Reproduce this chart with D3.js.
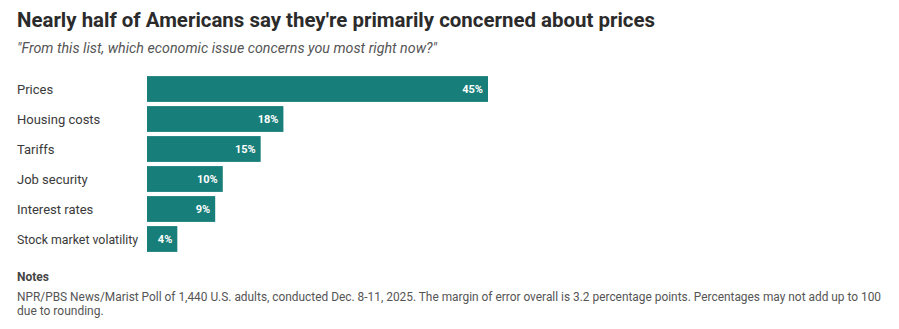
<!DOCTYPE html>
<html><head><meta charset="utf-8">
<script src="https://cdn.jsdelivr.net/npm/d3@7"></script>
<style>body{margin:0;background:#fff;} svg{display:block;}</style>
</head><body><svg id="c" width="899" height="329"></svg>
<script>
const categories = ["Prices","Housing costs","Tariffs","Job security","Interest rates","Stock market volatility"];
const values = [45,18,15,10,9,4];
const title = "Nearly half of Americans say they're primarily concerned about prices";
const subtitle = "\"From this list, which economic issue concerns you most right now?\"";
const notesHead = "Notes";
const notesLines = ["NPR/PBS News/Marist Poll of 1,440 U.S. adults, conducted Dec. 8-11, 2025. The margin of error overall is 3.2 percentage points. Percentages may not add up to 100","due to rounding."];

const svg = d3.select("#c");
const F = "'Liberation Sans Narrow','Roboto','Liberation Sans',sans-serif";
function fit(sel, w){ const n=sel.node(); const L=n.getComputedTextLength(); if(Math.abs(L-w)>2) sel.attr("textLength",w).attr("lengthAdjust","spacingAndGlyphs"); }

fit(svg.append("text").attr("x",17).attr("y",27).attr("font-family",F).attr("font-weight",700).attr("font-size",21).attr("fill","#2b2b2b").text(title),638);
fit(svg.append("text").attr("x",17).attr("y",53).attr("font-family",F).attr("font-style","italic").attr("font-size",15).attr("fill","#555").text(subtitle),420);

const x = d3.scaleLinear().domain([0,45]).range([147,488]);
const y = d3.scaleBand().domain(categories).range([74,254]).paddingInner(0.14).paddingOuter(0.07);

const g = svg.append("g");
g.selectAll("rect").data(values).join("rect")
 .attr("x",x(0)).attr("y",(d,i)=>y(categories[i])).attr("width",d=>x(d)-x(0)).attr("height",y.bandwidth()).attr("fill","#177e7a");
g.selectAll("text.v").data(values).join("text").attr("class","v")
 .attr("x",d=>x(d)-5).attr("y",(d,i)=>y(categories[i])+y.bandwidth()/2+4).attr("text-anchor","end")
 .attr("font-family",F).attr("font-weight",700).attr("font-size",11).attr("fill","#fff").text(d=>d+"%");
g.selectAll("text.l").data(categories).join("text").attr("class","l")
 .attr("x",17).attr("y",d=>y(d)+y.bandwidth()/2+4.5)
 .attr("font-family",F).attr("font-size",13).attr("fill","#3a3a3a").text(d=>d)
 .each(function(d){ if(d==="Stock market volatility") fit(d3.select(this),121); });

svg.append("text").attr("x",17).attr("y",281).attr("font-family",F).attr("font-weight",700).attr("font-size",12).attr("fill","#444").text(notesHead);
notesLines.forEach((t,i)=>{
  const s = svg.append("text").attr("x",17).attr("y",301+i*14).attr("font-family",F).attr("font-size",12).attr("fill","#555").text(t);
  if(i===0) fit(s,864);
});
</script></body></html>
